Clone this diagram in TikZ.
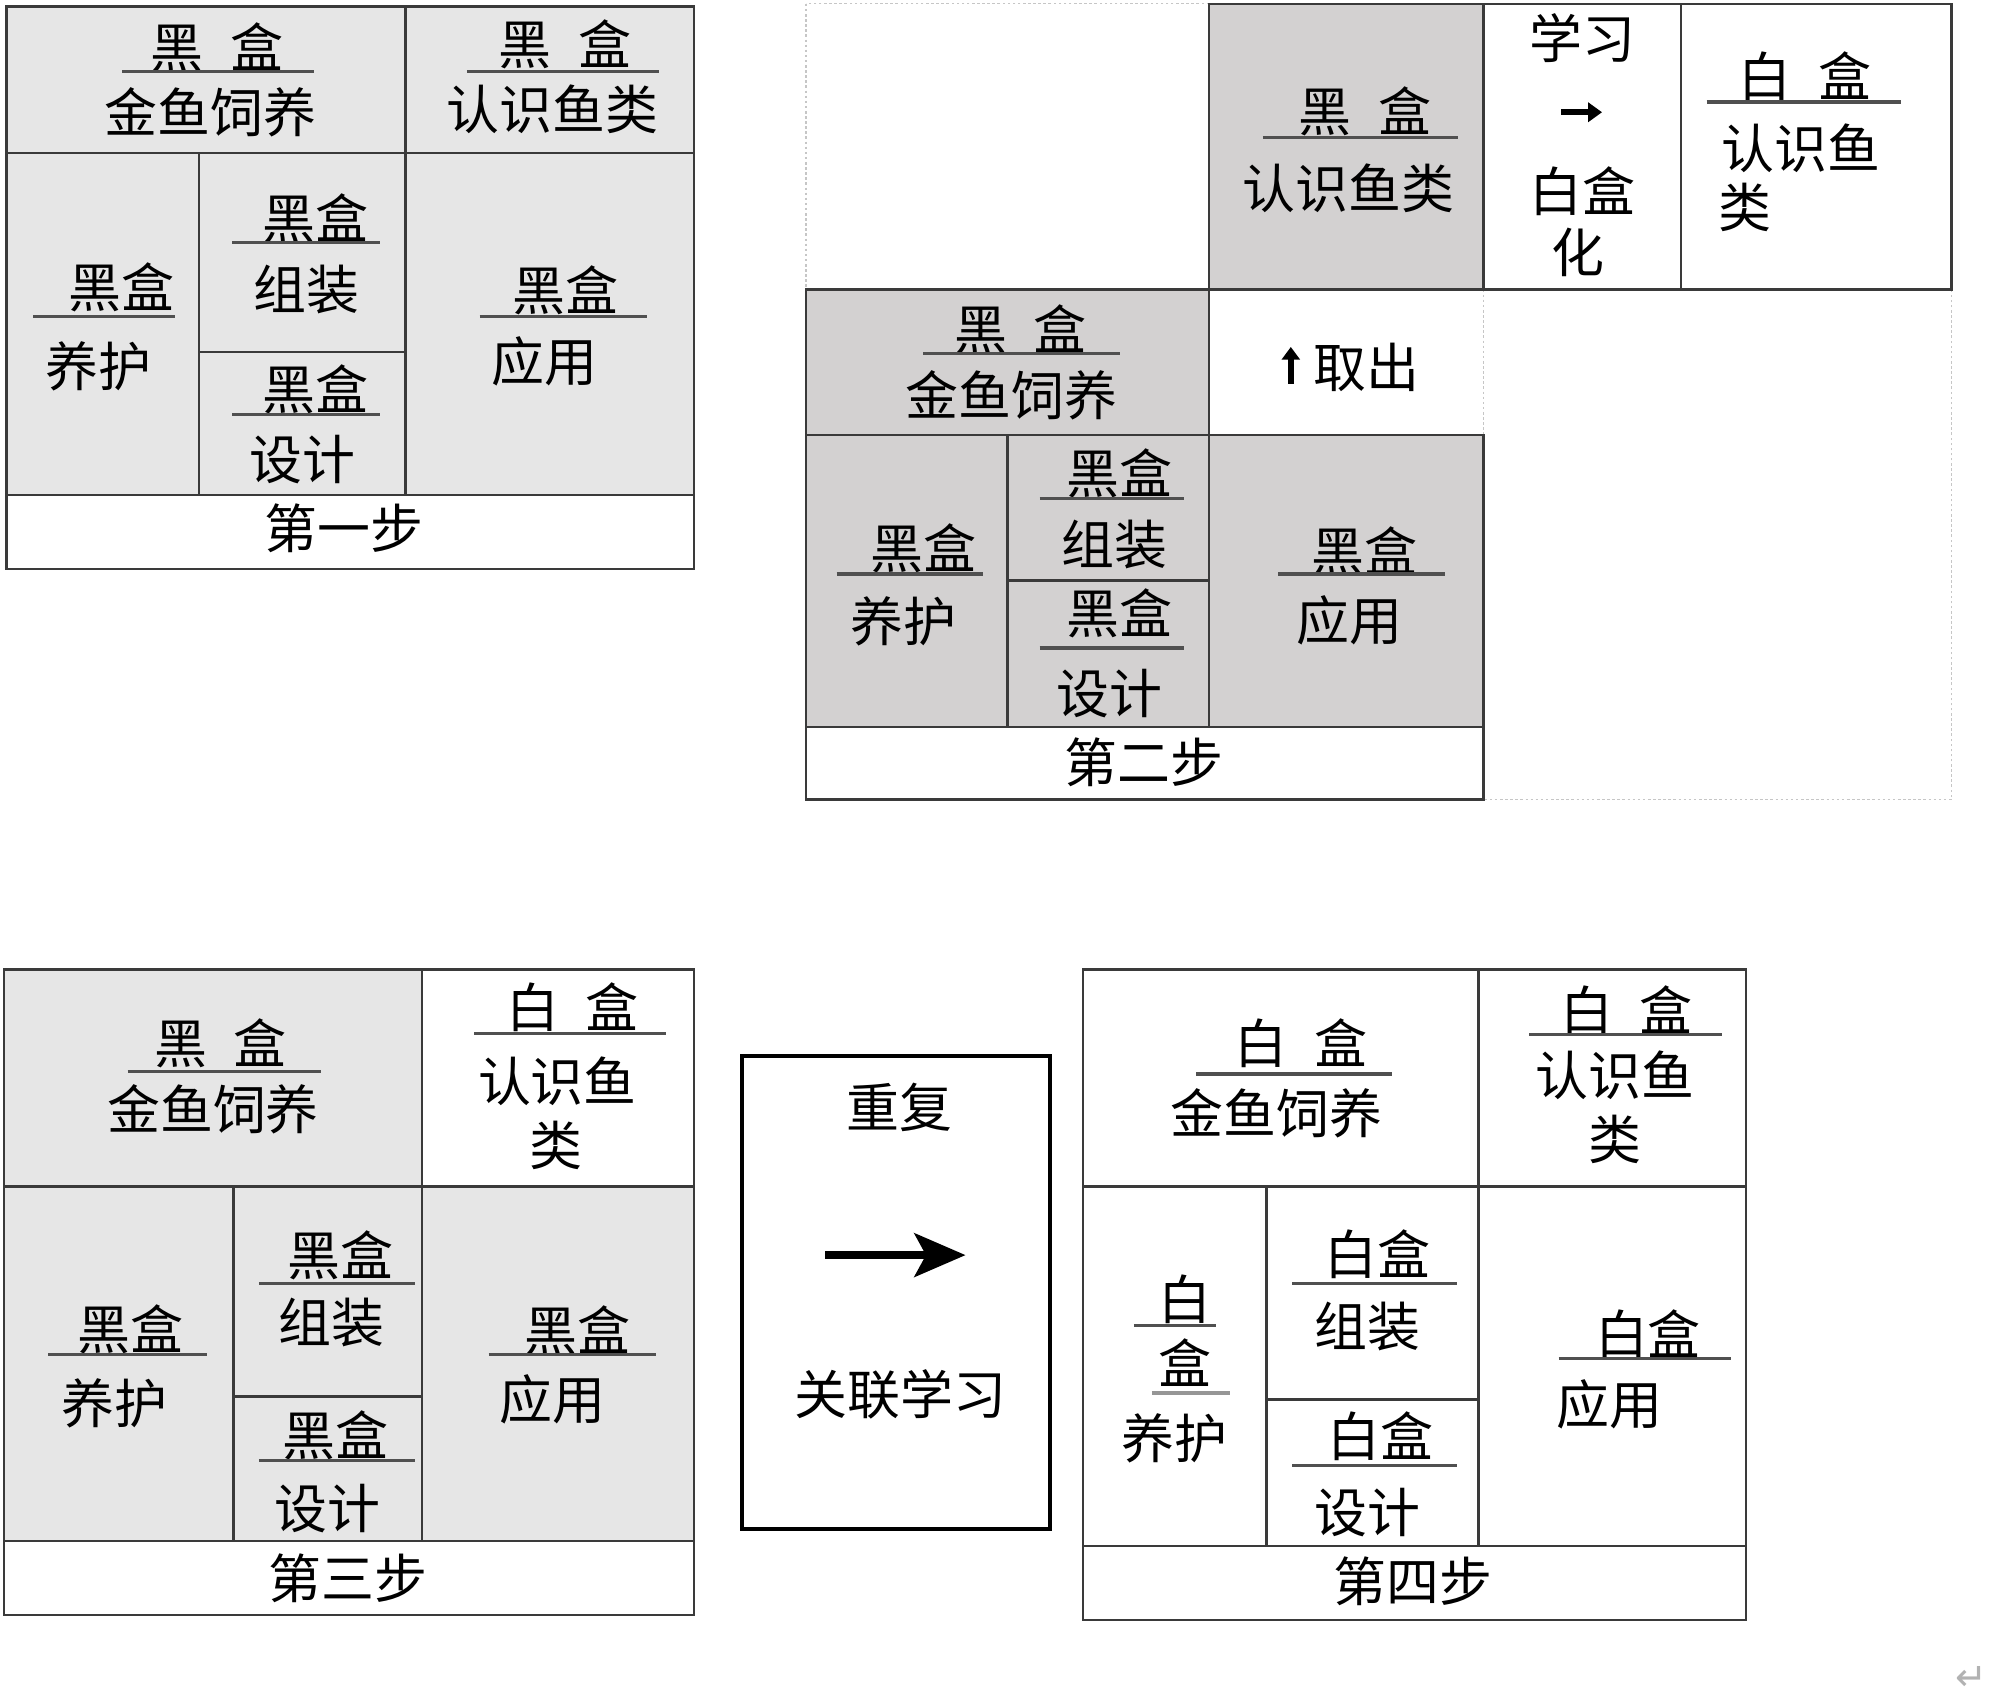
\documentclass[tikz,border=0pt]{standalone}
\usepackage{fontspec}
\newfontfamily\cjk{Noto Sans CJK SC}
\newfontfamily\dejavu{DejaVu Sans}
\usetikzlibrary{arrows.meta}
\definecolor{grayA}{HTML}{E6E6E6}
\definecolor{grayB}{HTML}{D3D1D1}
\definecolor{lineC}{HTML}{3A3A3A}
\definecolor{ulC}{HTML}{505050}
\tikzset{
 box/.style={draw=lineC, line width=2pt, inner sep=0pt, outer sep=0pt, anchor=north west},
 txt/.style={font=\cjk\fontsize{41.5}{44}\selectfont, inner sep=0pt, text=black},
 uline/.style={draw=ulC, line width=2.6pt},
 dotb/.style={draw=gray!45, dash pattern=on 2pt off 2pt, line width=1pt},
}
\newcommand\mycell[6]{\node[box, fill=#6, minimum width={(#4-#2)*1pt}, minimum height={(#5-#3)*1pt}] (#1) at (#2,#3) {};}
\begin{document}
\begin{tikzpicture}[x=1pt,y=-1pt]
\useasboundingbox[fill=white] (0,0) rectangle (1568,1338);
% ---------------- Panel 1 ----------------
\mycell{a1}{5}{5}{318}{120}{grayA}
\mycell{a2}{318}{5}{544}{120}{grayA}
\mycell{a3}{5}{120}{156}{388}{grayA}
\mycell{a4}{156}{120}{318}{276}{grayA}
\mycell{a5}{156}{276}{318}{388}{grayA}
\mycell{a6}{318}{120}{544}{388}{grayA}
\mycell{a7}{5}{388}{544}{446}{white}
\node[txt] (a1t) at (170,37) {黑\hspace{0.5em}盒};
\draw[uline] (96,56) -- (246,56);
\node[txt] (a1b) at (165,88) {金鱼饲养};
\node[txt] (a2t) at (443,35) {黑\hspace{0.5em}盒};
\draw[uline] (366,56) -- (517,56);
\node[txt] (a2b) at (433,86) {认识鱼类};
\node[txt] (a3t) at (95,225) {黑盒};
\draw[uline] (26,248) -- (137,248);
\node[txt] (a3b) at (77,287) {养护};
\node[txt] (a4t) at (247,171) {黑盒};
\draw[uline] (182,190) -- (298,190);
\node[txt] (a4b) at (240,227) {组装};
\node[txt] (a5t) at (247,305) {黑盒};
\draw[uline] (182,325) -- (298,325);
\node[txt] (a5b) at (237,360) {设计};
\node[txt] (a6t) at (443,228) {黑盒};
\draw[uline] (376,248) -- (507,248);
\node[txt] (a6b) at (427,283) {应用};
\node[txt] (a7t) at (270,414) {第一步};
% ---------------- Panel 2 ----------------
\draw[dotb] (632,3) rectangle (1530,627);
\draw[dotb] (1163,227) -- (1163,341);
\mycell{b1}{948}{3}{1163}{227}{grayB}
\mycell{b2}{1163}{3}{1318}{227}{white}
\mycell{b3}{1318}{3}{1530}{227}{white}
\mycell{b4}{632}{227}{948}{341}{grayB}
\mycell{b5}{632}{341}{790}{570}{grayB}
\mycell{b6}{790}{341}{948}{455}{grayB}
\mycell{b7}{790}{455}{948}{570}{grayB}
\mycell{b8}{948}{341}{1163}{570}{grayB}
\mycell{b9}{632}{570}{1163}{627}{white}
\node[txt] (b1t) at (1070,87) {黑\hspace{0.5em}盒};
\draw[uline] (990,108) -- (1143,108);
\node[txt] (b1b) at (1057,148) {认识鱼类};
\node[txt] (b2a) at (1241,30) {学习};
\coordinate (b2s) at (1224,88);
\coordinate (b2e) at (1256,88);
\draw[line width=4.5pt, -{Triangle[length=11pt,width=15pt]}] (b2s) -- (b2e);
\node[txt] (b2b) at (1241,150) {白盒};
\node[txt] (b2c) at (1237,198) {化};
\node[txt] (b3t) at (1415,60) {白\hspace{0.5em}盒};
\draw[uline] (1338,80) -- (1490,80);
\node[txt] (b3b) at (1412,116) {认识鱼};
\node[txt] (b3c) at (1368,163) {类};
\node[txt] (b4t) at (800,258) {黑\hspace{0.5em}盒};
\draw[uline] (724,277) -- (878,277);
\node[txt] (b4b) at (793,310) {金鱼饲养};
\coordinate (qs) at (1012,301);
\coordinate (qe) at (1012,272);
\draw[line width=4.5pt, -{Triangle[length=10pt,width=14pt]}] (qs) -- (qe);
\node[txt] (qt) at (1071,288) {取出};
\node[txt] (b5t) at (724,430) {黑盒};
\draw[uline] (656,450) -- (771,450);
\node[txt] (b5b) at (708,487) {养护};
\node[txt] (b6t) at (878,371) {黑盒};
\draw[uline] (815,391) -- (928,391);
\node[txt] (b6b) at (874,427) {组装};
\node[txt] (b7t) at (878,481) {黑盒};
\draw[uline] (815,508) -- (928,508);
\node[txt] (b7b) at (870,544) {设计};
\node[txt] (b8t) at (1070,432) {黑盒};
\draw[uline] (1002,450) -- (1133,450);
\node[txt] (b8b) at (1058,486) {应用};
\node[txt] (b9t) at (897,598) {第二步};
% ---------------- Panel 3 ----------------
\mycell{c1}{3}{760}{331}{930}{grayA}
\mycell{c2}{331}{760}{544}{930}{white}
\mycell{c3}{3}{930}{183}{1208}{grayA}
\mycell{c4}{183}{930}{331}{1095}{grayA}
\mycell{c5}{183}{1095}{331}{1208}{grayA}
\mycell{c6}{331}{930}{544}{1208}{grayA}
\mycell{c7}{3}{1208}{544}{1266}{white}
\node[txt] (c1t) at (173,818) {黑\hspace{0.5em}盒};
\draw[uline] (100,840) -- (252,840);
\node[txt] (c1b) at (167,870) {金鱼饲养};
\node[txt] (c2t) at (449,790) {白\hspace{0.5em}盒};
\draw[uline] (372,810) -- (522,810);
\node[txt] (c2b) at (437,848) {认识鱼};
\node[txt] (c2c) at (436,898) {类};
\node[txt] (c3t) at (102,1042) {黑盒};
\draw[uline] (38,1062) -- (162,1062);
\node[txt] (c3b) at (90,1100) {养护};
\node[txt] (c4t) at (267,984) {黑盒};
\draw[uline] (203,1006) -- (325,1006);
\node[txt] (c4b) at (260,1037) {组装};
\node[txt] (c5t) at (263,1125) {黑盒};
\draw[uline] (203,1145) -- (325,1145);
\node[txt] (c5b) at (257,1183) {设计};
\node[txt] (c6t) at (453,1043) {黑盒};
\draw[uline] (383,1062) -- (514,1062);
\node[txt] (c6b) at (433,1097) {应用};
\node[txt] (c7t) at (273,1237) {第三步};
% ---------------- Middle box ----------------
\node[box, draw=black, line width=3pt, fill=white, minimum width=241pt, minimum height=371pt] (m) at (582,828) {};
\node[txt] (mt) at (705,868) {重复};
\coordinate (ms) at (647,984);
\coordinate (me) at (757,984);
\draw[line width=6.5pt, -{Stealth[length=40pt,width=34pt,inset=9pt]}] (ms) -- (me);
\node[txt] (mb) at (706,1093) {关联学习};
% ---------------- Panel 4 ----------------
\mycell{d1}{849}{760}{1159}{930}{white}
\mycell{d2}{1159}{760}{1369}{930}{white}
\mycell{d3}{849}{930}{993}{1212}{white}
\mycell{d4}{993}{930}{1159}{1097}{white}
\mycell{d5}{993}{1097}{1159}{1212}{white}
\mycell{d6}{1159}{930}{1369}{1212}{white}
\mycell{d7}{849}{1212}{1369}{1270}{white}
\node[txt] (d1t) at (1020,818) {白\hspace{0.5em}盒};
\draw[uline] (938,842) -- (1091,842);
\node[txt] (d1b) at (1001,873) {金鱼饲养};
\node[txt] (d2t) at (1275,792) {白\hspace{0.5em}盒};
\draw[uline] (1199,811) -- (1350,811);
\node[txt] (d2b) at (1266,843) {认识鱼};
\node[txt] (d2c) at (1266,893) {类};
\node[txt] (d3t) at (929,1019) {白};
\draw[uline] (889,1039) -- (953,1039);
\node[txt] (d3m) at (929,1068) {盒};
\draw[uline, draw=ulC!60] (903,1092) -- (964,1092);
\node[txt] (d3b) at (921,1128) {养护};
\node[txt] (d4t) at (1080,983) {白盒};
\draw[uline] (1013,1006) -- (1142,1006);
\node[txt] (d4b) at (1072,1040) {组装};
\node[txt] (d5t) at (1082,1126) {白盒};
\draw[uline] (1013,1149) -- (1142,1149);
\node[txt] (d5b) at (1072,1186) {设计};
\node[txt] (d6t) at (1292,1046) {白盒};
\draw[uline] (1222,1065) -- (1357,1065);
\node[txt] (d6b) at (1262,1101) {应用};
\node[txt] (d7t) at (1108,1240) {第四步};
% return mark
\node[font=\dejavu\fontsize{30}{32}\selectfont, text=gray!60, inner sep=0pt] (ret) at (1546,1316) {↵};
\end{tikzpicture}
\end{document}
